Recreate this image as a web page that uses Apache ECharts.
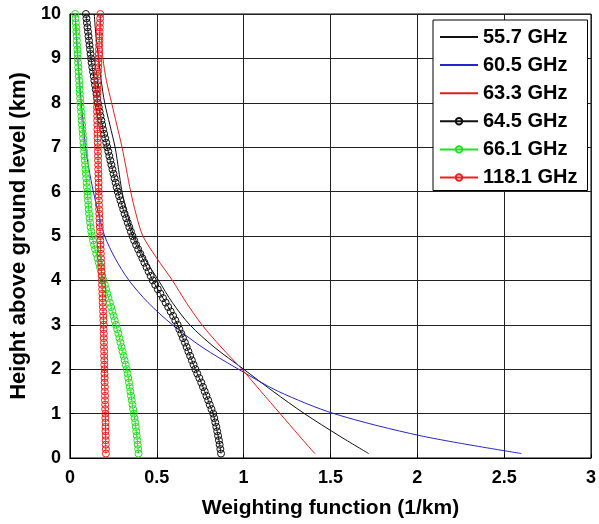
<!DOCTYPE html>
<html>
<head>
<meta charset="utf-8">
<script src="https://cdn.jsdelivr.net/npm/echarts@6/dist/echarts.min.js"></script>
<style>
  html, body { margin: 0; padding: 0; background: #fff; }
  #chart { width: 599px; height: 524px; }
</style>
</head>
<body>
<div id="chart"></div>
<script>
// heights (km) for the thin curves
var hLine = [0.1, 0.5, 1, 1.5, 2, 2.5, 3, 3.5, 4, 4.5, 5, 5.5, 6, 6.5, 7, 7.5, 8, 8.5, 9, 9.5, 10];
var w557 = [1.72, 1.55, 1.35, 1.17, 1.0, 0.83, 0.69, 0.59, 0.51, 0.43, 0.37, 0.33, 0.30, 0.28, 0.26, 0.23, 0.20, 0.18, 0.165, 0.15, 0.14];
var w605 = [2.6, 2.02, 1.52, 1.2, 0.97, 0.76, 0.59, 0.45, 0.34, 0.26, 0.2, 0.165, 0.135, 0.11, 0.09, 0.078, 0.065, 0.055, 0.045, 0.037, 0.03];
var w633 = [1.41, 1.32, 1.21, 1.1, 0.99, 0.87, 0.76, 0.67, 0.59, 0.5, 0.42, 0.38, 0.35, 0.325, 0.30, 0.27, 0.24, 0.21, 0.19, 0.18, 0.175];

// heights (km) for the circle-marked curves
var hMark = [
  0.1, 0.2, 0.3, 0.4, 0.5, 0.6, 0.7, 0.8, 0.9, 1.0,
  1.1, 1.2, 1.3, 1.4, 1.5, 1.6, 1.7, 1.8, 1.9, 2.0,
  2.1, 2.2, 2.3, 2.4, 2.5, 2.6, 2.7, 2.8, 2.9, 3.0,
  3.1, 3.2, 3.3, 3.4, 3.5, 3.6, 3.7, 3.8, 3.9, 4.0,
  4.1, 4.2, 4.3, 4.4, 4.5, 4.6, 4.7, 4.8, 4.9, 5.0,
  5.1, 5.2, 5.3, 5.4, 5.5, 5.6, 5.7, 5.8, 5.9, 6.0,
  6.1, 6.2, 6.3, 6.4, 6.5, 6.6, 6.7, 6.8, 6.9, 7.0,
  7.1, 7.2, 7.3, 7.4, 7.5, 7.6, 7.7, 7.8, 7.9, 8.0,
  8.1, 8.2, 8.3, 8.4, 8.5, 8.6, 8.7, 8.8, 8.9, 9.0,
  9.1, 9.2, 9.3, 9.4, 9.5, 9.6, 9.7, 9.8, 9.9, 10.0
];
var w645 = [
  0.87, 0.866, 0.862, 0.858, 0.853, 0.848, 0.843, 0.837, 0.831, 0.825,
  0.815, 0.805, 0.796, 0.786, 0.776, 0.766, 0.756, 0.745, 0.733, 0.722,
  0.712, 0.702, 0.692, 0.682, 0.672, 0.662, 0.651, 0.641, 0.630, 0.62,
  0.607, 0.594, 0.58, 0.566, 0.551, 0.536, 0.521, 0.506, 0.491, 0.477,
  0.465, 0.453, 0.441, 0.429, 0.417, 0.405, 0.393, 0.381, 0.37, 0.36,
  0.351, 0.342, 0.333, 0.324, 0.315, 0.307, 0.299, 0.291, 0.283, 0.275,
  0.269, 0.263, 0.257, 0.251, 0.245, 0.239, 0.233, 0.227, 0.221, 0.215,
  0.209, 0.203, 0.197, 0.191, 0.186, 0.181, 0.176, 0.171, 0.166, 0.161,
  0.157, 0.153, 0.149, 0.145, 0.141, 0.137, 0.133, 0.129, 0.125, 0.122,
  0.119, 0.116, 0.113, 0.110, 0.107, 0.104, 0.101, 0.098, 0.095, 0.092
];
var w661 = [
  0.395, 0.393, 0.39, 0.388, 0.385, 0.382, 0.379, 0.376, 0.372, 0.368,
  0.364, 0.36, 0.356, 0.352, 0.348, 0.344, 0.34, 0.336, 0.332, 0.327,
  0.321, 0.315, 0.309, 0.303, 0.297, 0.291, 0.285, 0.279, 0.272, 0.265,
  0.258, 0.251, 0.244, 0.237, 0.23, 0.222, 0.215, 0.208, 0.201, 0.194,
  0.187, 0.18, 0.173, 0.166, 0.159, 0.152, 0.145, 0.139, 0.133, 0.127,
  0.123, 0.119, 0.116, 0.113, 0.11, 0.108, 0.106, 0.104, 0.102, 0.1,
  0.098, 0.096, 0.094, 0.092, 0.09, 0.088, 0.086, 0.084, 0.082, 0.08,
  0.078, 0.076, 0.074, 0.072, 0.07, 0.068, 0.066, 0.064, 0.062, 0.06,
  0.059, 0.057, 0.056, 0.054, 0.053, 0.051, 0.05, 0.048, 0.047, 0.045,
  0.044, 0.043, 0.041, 0.04, 0.039, 0.037, 0.036, 0.034, 0.032, 0.03
];
var w1181 = [
  0.207, 0.207, 0.206, 0.206, 0.206, 0.205, 0.205, 0.205, 0.204, 0.204,
  0.203, 0.203, 0.202, 0.202, 0.201, 0.201, 0.2, 0.2, 0.199, 0.199,
  0.198, 0.198, 0.197, 0.197, 0.196, 0.196, 0.195, 0.195, 0.194, 0.194,
  0.193, 0.192, 0.191, 0.19, 0.189, 0.188, 0.187, 0.186, 0.185, 0.184,
  0.183, 0.182, 0.181, 0.18, 0.179, 0.178, 0.177, 0.176, 0.175, 0.174,
  0.173, 0.172, 0.171, 0.17, 0.169, 0.168, 0.167, 0.167, 0.166, 0.166,
  0.165, 0.165, 0.164, 0.164, 0.163, 0.163, 0.162, 0.162, 0.161, 0.161,
  0.16, 0.159, 0.159, 0.158, 0.158, 0.157, 0.157, 0.156, 0.156, 0.156,
  0.156, 0.157, 0.158, 0.159, 0.16, 0.161, 0.162, 0.163, 0.164, 0.165,
  0.166, 0.167, 0.168, 0.169, 0.17, 0.171, 0.172, 0.173, 0.174, 0.175
];

var names = ['55.7 GHz', '60.5 GHz', '63.3 GHz', '64.5 GHz', '66.1 GHz', '118.1 GHz'];

function pairs(xs, hs) {
    return xs.map(function (x, i) { return [x, hs[i]]; });
}

function thin(name, color, xs) {
    // transparent item colour so the legend shows only the line
    return {
        name: name, type: 'line', data: pairs(xs, hLine),
        smooth: 0.3, symbol: 'none',
        lineStyle: {color: color, width: 1},
        itemStyle: {color: 'rgba(0,0,0,0)'}
    };
}

function marked(name, color, xs) {
    return {
        name: name, type: 'line', data: pairs(xs, hMark),
        symbol: 'circle', symbolSize: 7, showSymbol: true,
        lineStyle: {color: color, width: 1},
        itemStyle: {color: 'rgba(255,255,255,0)', borderColor: color, borderWidth: 1}
    };
}

var font = 'Liberation Sans';

var option = {
    animation: false,
    backgroundColor: '#fff',
    grid: {
        left: 66, right: 6, top: 14, bottom: 55,
        show: true, borderColor: '#000', borderWidth: 1
    },
    legend: {
        orient: 'vertical',
        left: 433, top: 20,
        padding: [7, 10, 3, 6],
        itemWidth: 38, itemHeight: 8, itemGap: 8.1,
        backgroundColor: '#fff', borderColor: '#000', borderWidth: 1,
        textStyle: {color: '#000', fontFamily: font, fontWeight: 'bold', fontSize: 20},
        data: names
    },
    xAxis: {
        type: 'value', min: 0, max: 3, interval: 0.5,
        name: 'Weighting function (1/km)',
        nameLocation: 'middle', nameGap: 40,
        nameTextStyle: {color: '#000', fontFamily: font, fontWeight: 'bold', fontSize: 21},
        axisLine: {lineStyle: {color: '#000'}},
        axisTick: {inside: true, length: 4, lineStyle: {color: '#000'}},
        axisLabel: {color: '#000', fontFamily: font, fontWeight: 'bold', fontSize: 18, margin: 11},
        splitLine: {lineStyle: {color: '#222', width: 1}}
    },
    yAxis: {
        type: 'value', min: 0, max: 10, interval: 1,
        name: 'Height above ground level (km)',
        nameLocation: 'middle', nameGap: 35, nameRotate: 90,
        nameTextStyle: {color: '#000', fontFamily: font, fontWeight: 'bold', fontSize: 22},
        axisLine: {show: true, lineStyle: {color: '#000'}},
        axisTick: {show: true, inside: true, length: 4, lineStyle: {color: '#000'}},
        axisLabel: {color: '#000', fontFamily: font, fontWeight: 'bold', fontSize: 18, margin: 9},
        splitLine: {lineStyle: {color: '#222', width: 1}}
    },
    series: [
        thin(names[0], '#111111', w557),
        thin(names[1], '#2626c8', w605),
        thin(names[2], '#e02020', w633),
        marked(names[3], '#111111', w645),
        marked(names[4], '#22e022', w661),
        marked(names[5], '#e82020', w1181)
    ]
};

var myChart = echarts.init(document.getElementById('chart'));
myChart.setOption(option);
</script>
</body>
</html>
